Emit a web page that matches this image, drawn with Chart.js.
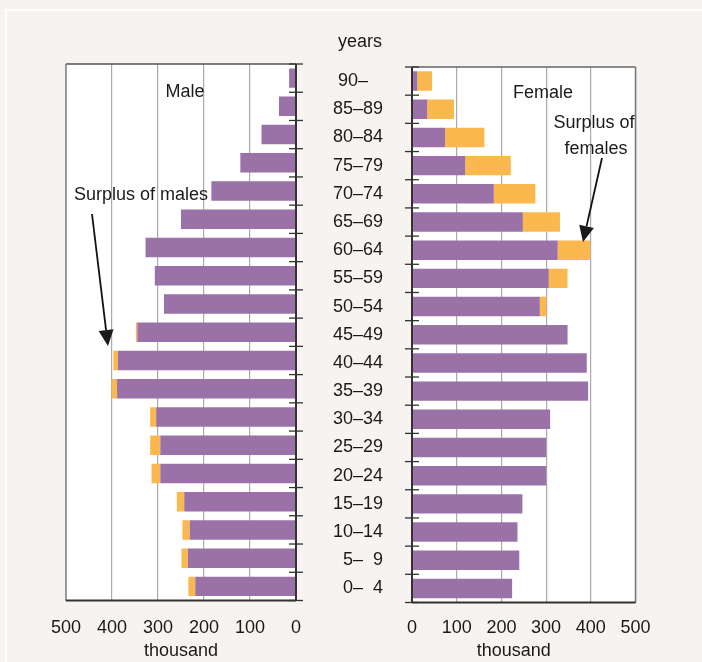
<!DOCTYPE html>
<html>
<head>
<meta charset="utf-8">
<script src="https://cdn.jsdelivr.net/npm/chart.js@4.4.1/dist/chart.umd.min.js"></script>
<style>
html, body { margin: 0; padding: 0; background: #f6f3f0; }
#wrap { position: relative; width: 702px; height: 662px; overflow: hidden; }
#bord { position: absolute; left: 5px; top: 9px; right: -10px; bottom: -10px; border-left: 2px solid #fff; border-top: 2px solid #fff; }
canvas { position: absolute; left: 0; top: 0; }
</style>
</head>
<body>
<div id="wrap">
  <div id="bord"></div>
  <canvas id="graphiqueHommes" width="702" height="662"></canvas>
  <canvas id="graphiqueFemmes" width="702" height="662"></canvas>
</div>
<script>
// groupes d'age, du haut vers le bas (les espaces alignent les chiffres)
const ages = ['90–   ', '85–89', '80–84', '75–79', '70–74', '65–69', '60–64', '55–59', '50–54', '45–49',
              '40–44', '35–39', '30–34', '25–29', '20–24', '15–19', '10–14', '5–  9', '0–  4'];

// milliers de personnes
const hommesBase    = [15, 37, 75, 121, 184, 250, 327, 307, 287, 345, 387, 389, 304, 295, 295, 243, 231, 235, 219];
const hommesSurplus = [0, 0, 0, 0, 0, 0, 0, 0, 0, 3, 10, 12, 13, 22, 19, 16, 16, 14, 15];
const femmesBase    = [12, 34, 74, 119, 183, 248, 326, 306, 286, 348, 391, 394, 309, 300, 300, 247, 236, 240, 224];
const femmesSurplus = [33, 60, 88, 102, 93, 83, 73, 42, 15, 0, 0, 0, 0, 0, 0, 0, 0, 0, 0];

const ticksX = [0, 100, 200, 300, 400, 500];

const violet = '#9a72a8';
const orange = '#fbb84e';
const police = "'Liberation Sans', Arial, sans-serif";

Chart.defaults.font.family = police;
Chart.defaults.font.size = 18;
Chart.defaults.color = '#1a1a1a';

// fond blanc de la zone de trace
const fondBlanc = {
    id: 'fondBlanc',
    beforeDraw(chart) {
        const a = chart.chartArea, ctx = chart.ctx;
        ctx.save();
        ctx.fillStyle = '#fff';
        ctx.fillRect(a.left, a.top, a.right - a.left, a.bottom - a.top);
        ctx.restore();
    }
};

// cadre autour du graphique
const cadre = {
    id: 'cadre',
    afterDatasetsDraw(chart, args, opts) {
        const a = chart.chartArea, ctx = chart.ctx;
        const ligne = (x1, y1, x2, y2, c, w) => {
            ctx.beginPath(); ctx.strokeStyle = c; ctx.lineWidth = w;
            ctx.moveTo(x1, y1); ctx.lineTo(x2, y2); ctx.stroke();
        };
        ctx.save();
        ligne(a.left, a.top, a.right, a.top, opts.haut, 1.5);
        ligne(a.left, a.top, a.left, a.bottom, opts.gauche, opts.gaucheW || 1.5);
        ligne(a.right, a.top, a.right, a.bottom, opts.droite, opts.droiteW || 1.5);
        ligne(a.left, a.bottom, a.right, a.bottom, '#333', 2);
        ctx.restore();
    }
};

// petits traits entre les groupes d'age sur l'axe central
const graduations = {
    id: 'graduations',
    afterDatasetsDraw(chart, args, opts) {
        const y = chart.scales.y, ctx = chart.ctx;
        const x0 = opts.cote === 'droite' ? chart.chartArea.right : chart.chartArea.left;
        const p0 = y.getPixelForValue(0);
        const pas = y.getPixelForValue(1) - p0;
        ctx.save();
        ctx.strokeStyle = '#333';
        ctx.lineWidth = 1.3;
        for (let i = 0; i <= ages.length; i++) {
            const py = p0 + (i - 0.5) * pas;
            ctx.beginPath(); ctx.moveTo(x0 - 7, py); ctx.lineTo(x0 + 7, py); ctx.stroke();
        }
        ctx.restore();
    }
};

// textes et fleches
const annotations = {
    id: 'annotations',
    afterDraw(chart, args, opts) {
        const ctx = chart.ctx;
        ctx.save();
        ctx.fillStyle = '#1a1a1a';
        ctx.strokeStyle = '#111';
        ctx.font = '18px ' + police;
        ctx.textBaseline = 'alphabetic';
        (opts.textes || []).forEach(t => {
            ctx.textAlign = t.align || 'center';
            ctx.fillText(t.txt, t.x, t.y);
        });
        (opts.fleches || []).forEach(f => {
            const ang = Math.atan2(f.y2 - f.y1, f.x2 - f.x1);
            const L = 16, W = 7.5;
            const bx = f.x2 - L * Math.cos(ang), by = f.y2 - L * Math.sin(ang);
            ctx.lineWidth = 1.8;
            ctx.beginPath(); ctx.moveTo(f.x1, f.y1); ctx.lineTo(bx, by); ctx.stroke();
            ctx.beginPath();
            ctx.moveTo(f.x2, f.y2);
            ctx.lineTo(bx - W * Math.sin(ang), by + W * Math.cos(ang));
            ctx.lineTo(bx + W * Math.sin(ang), by - W * Math.cos(ang));
            ctx.closePath(); ctx.fill();
        });
        ctx.restore();
    }
};

function optionsX(reverse, pad, titre) {
    return {
        reverse: reverse,
        stacked: true,
        min: ticksX[0],
        max: ticksX[ticksX.length - 1],
        ticks: { stepSize: ticksX[1] - ticksX[0], padding: pad, maxRotation: 0, autoSkip: false },
        grid: { color: '#aaaaaa', lineWidth: 1.2, drawTicks: false },
        border: { display: false },
        title: { display: true, text: titre, padding: { top: 0, bottom: 0 } }
    };
}

//graphique des hommes (a gauche)
var graphiqueHommes = new Chart(document.getElementById('graphiqueHommes'), {
    type: 'bar',
    data: {
        labels: ages,
        datasets: [{
            label: 'Hommes',
            data: hommesBase,
            backgroundColor: violet,
            categoryPercentage: 1,
            barPercentage: 0.69
        }, {
            label: 'Surplus of males',
            data: hommesSurplus,
            backgroundColor: orange,
            categoryPercentage: 1,
            barPercentage: 0.69
        }]
    },
    options: {
        indexAxis: 'y',
        responsive: false,
        animation: false,
        layout: { padding: { left: 66, right: 406, top: 64, bottom: 0 } },
        scales: {
            x: Object.assign(optionsX(true, 17, 'thousand'), { afterFit: s => { s.height = 61.5; } }),
            y: {
                position: 'right',
                stacked: true,
                ticks: { display: false },
                grid: { display: false },
                border: { display: false },
                afterFit: s => { s.width = 0; }
            }
        },
        plugins: {
            legend: { display: false },
            tooltip: { enabled: false },
            cadre: { haut: '#555', gauche: '#888', droite: '#333', droiteW: 2 },
            graduations: { cote: 'droite' },
            annotations: {
                textes: [
                    { txt: 'Male', x: 185, y: 97 },
                    { txt: 'Surplus of males', x: 74, y: 200, align: 'left' }
                ],
                fleches: [{ x1: 92, y1: 214, x2: 108, y2: 346 }]
            }
        }
    },
    plugins: [fondBlanc, cadre, graduations, annotations]
});

//graphique des femmes (a droite)
var graphiqueFemmes = new Chart(document.getElementById('graphiqueFemmes'), {
    type: 'bar',
    data: {
        labels: ages,
        datasets: [{
            label: 'Femmes',
            data: femmesBase,
            backgroundColor: violet,
            categoryPercentage: 1,
            barPercentage: 0.69
        }, {
            label: 'Surplus of females',
            data: femmesSurplus,
            backgroundColor: orange,
            categoryPercentage: 1,
            barPercentage: 0.69
        }]
    },
    options: {
        indexAxis: 'y',
        responsive: false,
        animation: false,
        layout: { padding: { left: 0, right: 66.5, top: 67, bottom: 0 } },
        scales: {
            x: Object.assign(optionsX(false, 15, 'thousand    '), { afterFit: s => { s.height = 59.5; } }),
            y: {
                position: 'left',
                stacked: true,
                ticks: { padding: 29, autoSkip: false },
                grid: { display: false, drawTicks: false },
                border: { display: false },
                afterFit: s => { s.width = 412; }
            }
        },
        plugins: {
            legend: { display: false },
            tooltip: { enabled: false },
            cadre: { haut: '#666', gauche: '#333', gaucheW: 2, droite: '#777' },
            graduations: { cote: 'gauche' },
            annotations: {
                textes: [
                    { txt: 'years', x: 360, y: 47 },
                    { txt: 'Female', x: 543, y: 98 },
                    { txt: 'Surplus of', x: 594, y: 128 },
                    { txt: 'females', x: 596, y: 154 }
                ],
                fleches: [{ x1: 602, y1: 158, x2: 583, y2: 242 }]
            }
        }
    },
    plugins: [fondBlanc, cadre, graduations, annotations]
});
</script>
</body>
</html>
